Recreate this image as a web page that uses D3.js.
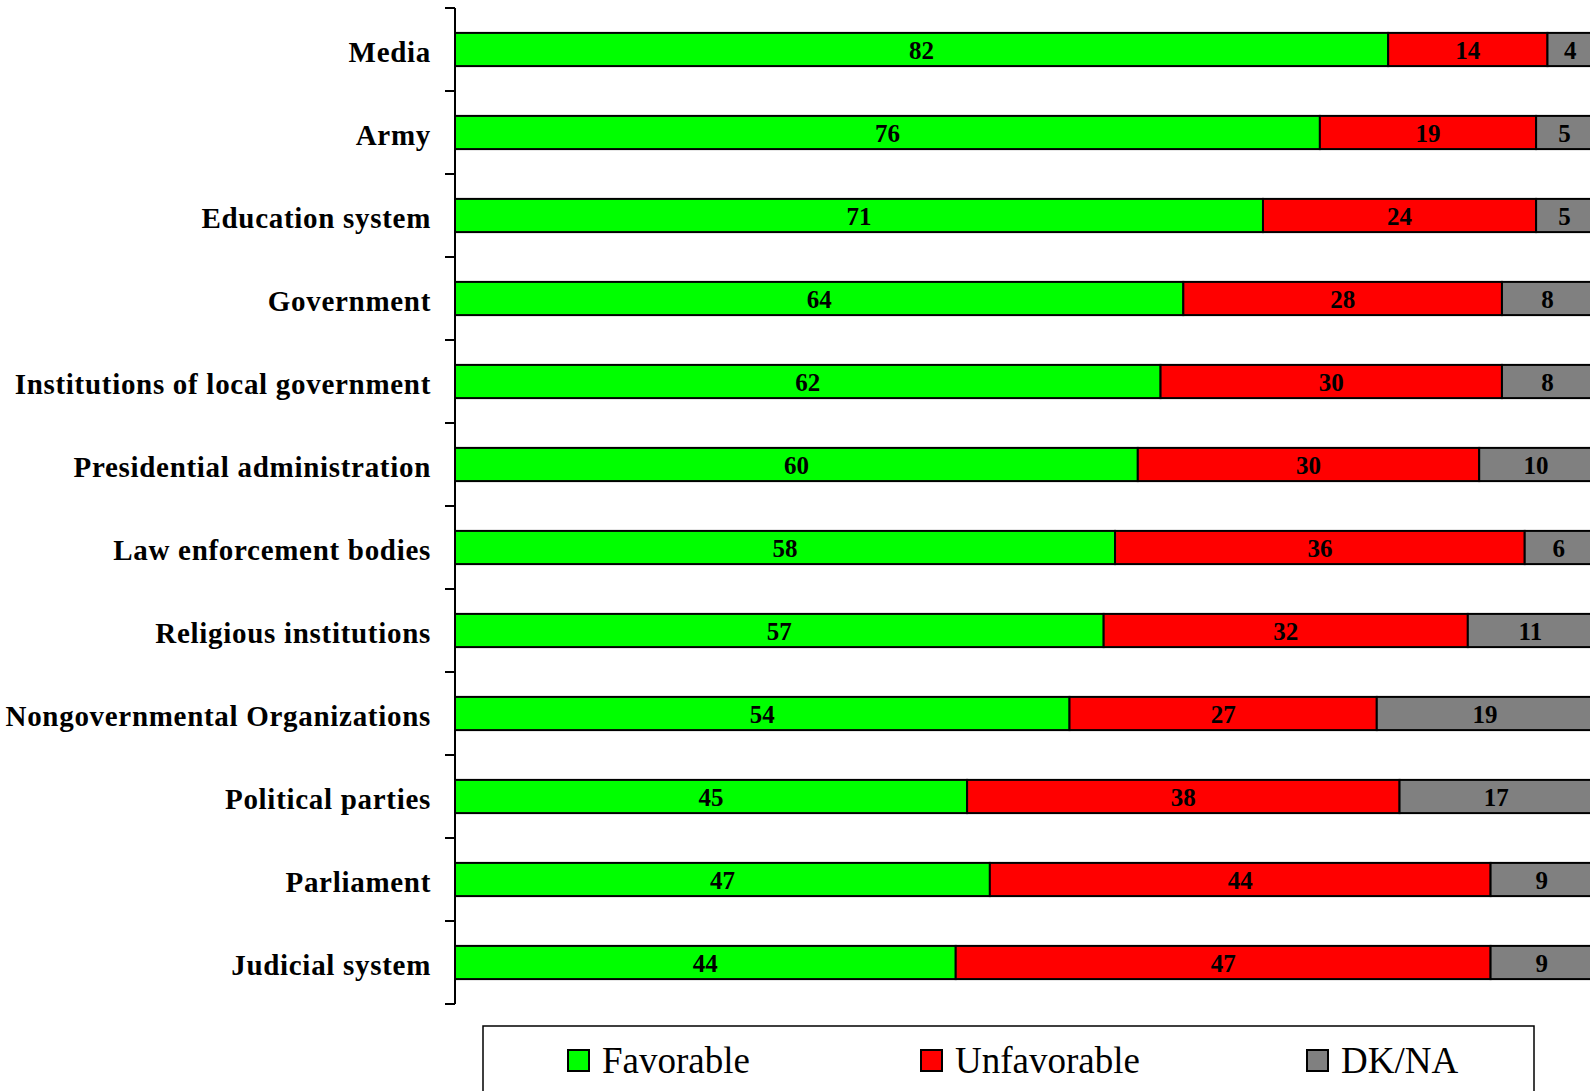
<!DOCTYPE html>
<html><head><meta charset="utf-8">
<script src="https://cdn.jsdelivr.net/npm/d3@7"></script>
<style>body{margin:0;background:#fff}svg{display:block}</style>
</head><body>
<script>
const categories = ["Media","Army","Education system","Government","Institutions of local government","Presidential administration","Law enforcement bodies","Religious institutions","Nongovernmental Organizations","Political parties","Parliament","Judicial system"];
const favorable   = [82,76,71,64,62,60,58,57,54,45,47,44];
const unfavorable = [14,19,24,28,30,30,36,32,27,38,44,47];
const dkna        = [4,5,5,8,8,10,6,11,19,17,9,9];
const seriesNames = ["Favorable","Unfavorable","DK/NA"];
const seriesColors = ["#00FF00","#FF0000","#808080"];

const W = 1590, H = 1091;
const svg = d3.select("body").append("svg").attr("width", W).attr("height", H);

const x0 = 455;
const x = d3.scaleLinear().domain([0,100]).range([x0, x0 + 1138]);
const y = d3.scaleBand().domain(categories).range([8, 1004]).paddingInner(0.6).paddingOuter(0.3);

const rows = categories.map((c,i)=>({cat:c, Favorable:favorable[i], Unfavorable:unfavorable[i], "DK/NA":dkna[i]}));
const stacked = d3.stack().keys(seriesNames)(rows);

const g = svg.append("g");
stacked.forEach((s, si) => {
  const grp = g.append("g");
  grp.selectAll("rect").data(s).enter().append("rect")
    .attr("x", d => x(d[0]))
    .attr("y", d => y(d.data.cat))
    .attr("width", d => x(d[1]) - x(d[0]))
    .attr("height", y.bandwidth())
    .attr("fill", seriesColors[si])
    .attr("stroke", "#000").attr("stroke-width", 2);
  grp.selectAll("text").data(s).enter().append("text")
    .attr("x", d => (x(d[0]) + x(d[1]))/2)
    .attr("y", d => y(d.data.cat) + y.bandwidth()/2)
    .attr("dy", "0.36em")
    .attr("text-anchor", "middle")
    .attr("font-family", "'Liberation Serif','Times New Roman',serif")
    .attr("font-weight", "bold").attr("font-size", 25)
    .attr("fill", "#000")
    .text(d => d[1] - d[0]);
});

// axis
const axisG = svg.append("g").attr("transform", `translate(${x0},0)`);
axisG.append("line").attr("x1",0).attr("x2",0).attr("y1",8).attr("y2",1004)
  .attr("stroke","#000").attr("stroke-width",2);
const tickYs = categories.map(c => y(c) - y.step()*y.paddingInner()/2).concat([1004]);
axisG.selectAll("line.tick").data(tickYs).enter().append("line").attr("class","tick")
  .attr("x1",-10).attr("x2",0).attr("y1",d=>d).attr("y2",d=>d)
  .attr("stroke","#000").attr("stroke-width",2);
axisG.selectAll("text.lbl").data(categories).enter().append("text").attr("class","lbl")
  .attr("x", -24)
  .attr("y", d => y(d) + y.bandwidth()/2 + 2)
  .attr("dy","0.35em")
  .attr("text-anchor","end")
  .attr("font-family", "'Liberation Serif','Times New Roman',serif")
  .attr("font-weight","bold").attr("font-size",29)
  .attr("letter-spacing","0.7px")
  .attr("fill","#000")
  .text(d=>d);

// legend
const lg = svg.append("g");
lg.append("rect").attr("x",483).attr("y",1026).attr("width",1051).attr("height",100)
  .attr("fill","#fff").attr("stroke","#000").attr("stroke-width",1.5);
const legX = [568, 921, 1307];
seriesNames.forEach((n,i)=>{
  lg.append("rect").attr("x",legX[i]).attr("y",1050).attr("width",21).attr("height",21)
    .attr("fill",seriesColors[i]).attr("stroke","#000").attr("stroke-width",2);
  lg.append("text").attr("x",legX[i]+34).attr("y",1073)
    .attr("font-family", "'Liberation Serif','Times New Roman',serif")
    .attr("font-size",37).attr("fill","#000").text(n);
});
</script>
</body></html>
